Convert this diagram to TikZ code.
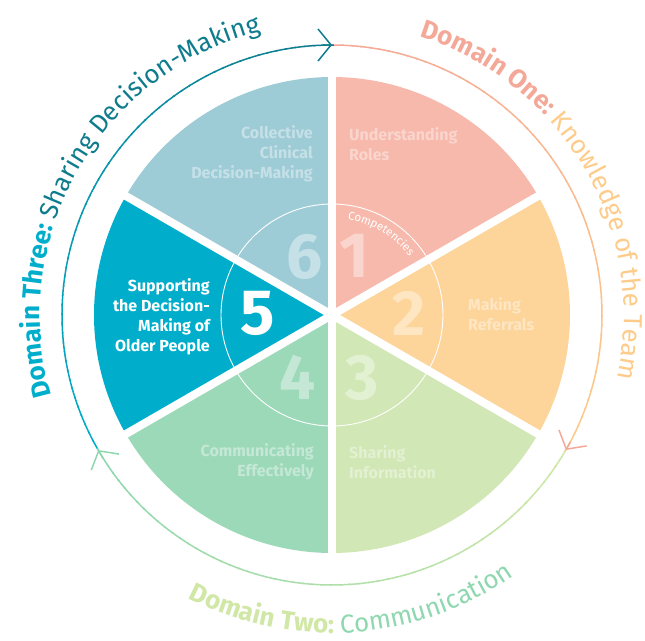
\documentclass[tikz,border=0pt]{standalone}
\usepackage{fontspec}
\setmainfont{Fira Sans}
\usetikzlibrary{decorations.text,arrows.meta}
\definecolor{sA}{HTML}{F7B9AC}
\definecolor{sB}{HTML}{FDD59B}
\definecolor{sC}{HTML}{D1E7B5}
\definecolor{sD}{HTML}{9CD9B9}
\definecolor{sE}{HTML}{00AECB}
\definecolor{sF}{HTML}{9ECCD6}
\definecolor{dOneA}{HTML}{F4A898}
\definecolor{dOneB}{HTML}{FDCB8A}
\definecolor{dTwoA}{HTML}{D0E7A6}
\definecolor{dTwoB}{HTML}{8ED7AF}
\definecolor{dThreeA}{HTML}{00AECB}
\definecolor{dThreeB}{HTML}{0E7C8C}
\tikzset{
  lab/.style={font=\fontsize{16}{20}\selectfont\bfseries, inner sep=0pt},
  num/.style={font=\fontsize{64}{64}\selectfont\bfseries, inner sep=0pt},
  ring/.style={line width=1.5pt},
  tip/.style={line width=1.5pt, -{Straight Barb[length=13pt,width=32pt]}}
}
\begin{document}
\begin{tikzpicture}[x=1pt,y=1pt]
\useasboundingbox (-332,-325) rectangle (313,315);
\clip (-332,-325) rectangle (313,315);
% sectors
\foreach \a/\c in {30/sA,-30/sB,-90/sC,-150/sD,150/sE,90/sF}
  \fill[\c] (0,0) -- (\a:238) arc[start angle=\a, end angle=\a+60, radius=238] -- cycle;
\foreach \a in {30,90,...,330}
  \draw[white, line width=8pt] (0,0) -- (\a:246);
\draw[white, line width=0.9pt] (0,0) circle[radius=111];
% gradient rings
\foreach \i in {0,...,59} {
  \pgfmathsetmacro\sa{90-2*\i}
  \pgfmathsetmacro\ea{87.6-2*\i}
  \pgfmathtruncatemacro\p{100-100*\i/59}
  \draw[ring, color=dOneA!\p!dOneB] (\sa:270) arc[start angle=\sa, end angle=\ea, radius=270];
  \pgfmathsetmacro\sb{-30-2*\i}
  \pgfmathsetmacro\eb{-32.4-2*\i}
  \draw[ring, color=dTwoA!\p!dTwoB] (\sb:270) arc[start angle=\sb, end angle=\eb, radius=270];
  \pgfmathsetmacro\sc{210-2*\i}
  \pgfmathsetmacro\ec{207.6-2*\i}
  \draw[ring, color=dThreeA!\p!dThreeB] (\sc:270) arc[start angle=\sc, end angle=\ec, radius=270];
}
\draw[tip, color=dOneA] (-28:270) arc[start angle=-28, end angle=-30, radius=270];
\draw[tip, color=dTwoB] (-148:270) arc[start angle=-148, end angle=-150, radius=270];
\draw[tip, color=dThreeB] (92:270) arc[start angle=92, end angle=90, radius=270];
% domain titles
\path[decorate, decoration={text along path, text align=center,
  text={|\fontsize{26}{26}\selectfont\bfseries\color{dThreeA}|Domain Three: |\fontsize{26}{26}\selectfont\mdseries\color{dThreeB}|Sharing Decision-Making}}]
  (210:292) arc[start angle=210, end angle=90, radius=292];
\path[decorate, decoration={text along path, text align=center,
  text={|\fontsize{26}{26}\selectfont\bfseries\color{dOneA}|Domain One: |\fontsize{26}{26}\selectfont\mdseries\color{dOneB}|Knowledge of the Team}}]
  (90:292) arc[start angle=90, end angle=-30, radius=292];
\path[decorate, decoration={text along path, text align=center,
  text={|\fontsize{26}{26}\selectfont\bfseries\color{dTwoA}|Domain Two: |\fontsize{26}{26}\selectfont\mdseries\color{dTwoB}|Communication}}]
  (-146:318) arc[start angle=-146, end angle=-26, radius=318];
\path[decorate, decoration={text along path, text align=center,
  text={|\fontsize{11.5}{11.5}\selectfont\color{white}|Competencies}}]
  (89:97) arc[start angle=89, end angle=29, radius=97];
% numbers
\node[num, text=white!40!sA] (n1) at (22,59) {1};
\node[num, text=white!40!sB] (n2) at (77,2) {2};
\node[num, text=white!40!sC] (n3) at (30,-63) {3};
\node[num, text=white!40!sD] (n4) at (-34,-62) {4};
\node[num, text=white] (n5) at (-74,2) {5};
\node[num, text=white!40!sF] (n6) at (-27,58) {6};
% labels
\node[lab, text=white!40!sA, anchor=west, align=left] (l1) at (17,170.5) {Understanding\\Roles};
\node[lab, text=white!40!sB, anchor=west, align=left] (l2) at (136,0.5) {Making\\Referrals};
\node[lab, text=white!40!sC, anchor=west, align=left] (l3) at (17,-147) {Sharing\\Information};
\node[lab, text=white!40!sD, anchor=east, align=right] (l4) at (-18,-147) {Communicating\\Effectively};
\node[lab, text=white, anchor=east, align=right] (l5) at (-122,-2) {Supporting\\the Decision-\\Making of\\Older People};
\node[lab, text=white!40!sF, anchor=east, align=right] (l6) at (-19,161) {Collective\\Clinical\\Decision-Making};
\end{tikzpicture}
\end{document}
